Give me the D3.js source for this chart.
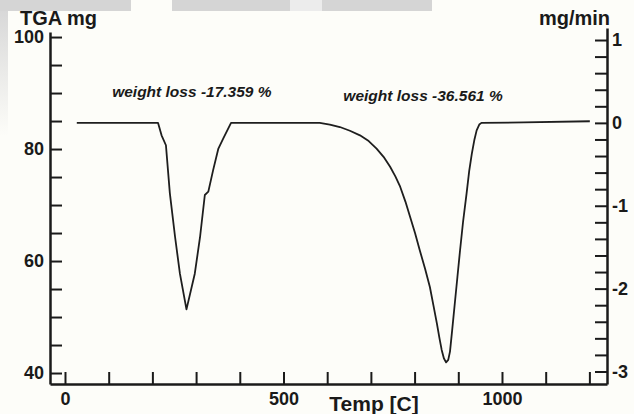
<!DOCTYPE html>
<meta charset="utf-8">
<script src="https://d3js.org/d3.v7.min.js"></script>
<style>
  body { margin: 0; background: #fdfdf9; }
  text { font-family: "Liberation Sans", Arial, sans-serif; fill: #1a1a1a; }
</style>
<body>
<div id="chart"></div>
<script>
// TGA / DTG curve
var temp = [27, 120, 213, 221, 231, 240, 252, 263, 278, 297, 309, 320, 328, 339, 351, 362, 380,
            480, 583, 606, 629, 652, 675, 695, 713, 729, 744, 756, 767, 779, 790, 801, 812, 824, 835, 843, 851,
            857, 862, 867, 872, 877, 881, 886, 892, 898, 904, 911, 919, 925, 931, 937, 942, 948, 953, 1050, 1201]
var dtg = [0, 0, 0, -0.15, -0.27, -0.85, -1.38, -1.82, -2.25, -1.82, -1.38, -0.87, -0.83, -0.57, -0.31, -0.19, 0,
           0, 0, -0.02, -0.05, -0.095, -0.15, -0.22, -0.31, -0.41, -0.53, -0.645, -0.77, -0.95, -1.14, -1.33, -1.54, -1.76, -1.98, -2.2, -2.42,
           -2.6, -2.74, -2.84, -2.89, -2.86, -2.76, -2.5, -2.18, -1.86, -1.54, -1.19, -0.85, -0.58, -0.37, -0.2, -0.09, -0.02, 0, 0.005, 0.02]
var xTicks = d3.range(0, 1201, 100)
var xLabels = [0, 500, 1000]
var leftTicks = d3.range(40, 101, 5)
var leftLabels = [40, 60, 80, 100]
var rightTicks = d3.range(-15, 6).map(function(d) { return d / 5 })
var rightLabels = [-3, -2, -1, 0, 1]
var notes = ["weight loss -17.359 %", "weight loss -36.561 %"]
var noteTemp = [108, 637]
var noteMass = [89.3, 88.6]

var width = 634, height = 414
var svg = d3.select("#chart").append("svg")
    .attr("width", width)
    .attr("height", height)

svg.append("rect").attr("width", width).attr("height", height).attr("fill", "#fdfdf9")

// grey slide pieces at the top / left edge
var greyBits = [[0, 131, "#d5d5d5"], [172, 290, "#d5d5d5"], [290, 322, "#ececec"], [322, 432, "#d5d5d5"]]
svg.selectAll(".grey").data(greyBits).enter().append("rect")
    .attr("x", function(d) { return d[0] })
    .attr("y", 0)
    .attr("width", function(d) { return d[1] - d[0] })
    .attr("height", 11)
    .attr("fill", function(d) { return d[2] })
var grad = svg.append("defs").append("linearGradient").attr("id", "fade")
    .attr("x1", 0).attr("y1", 0).attr("x2", 0).attr("y2", 1)
grad.append("stop").attr("offset", 0).attr("stop-color", "#d8d8d8")
grad.append("stop").attr("offset", 1).attr("stop-color", "#fdfdf9")
svg.append("rect").attr("x", 0).attr("y", 11).attr("width", 8).attr("height", 125).attr("fill", "url(#fade)")

var x = d3.scaleLinear().domain([-34.3, 1240.3]).range([50, 607])
var yL = d3.scaleLinear().domain([38.04, 100.9]).range([384, 32])
var yR = d3.scaleLinear().domain([-3.151, 1.145]).range([384, 28])

function styleAxis(g) {
  g.select(".domain").attr("stroke", "#1a1a1a").attr("stroke-width", 2.5)
  g.selectAll(".tick line").attr("stroke", "#1a1a1a").attr("stroke-width", 2)
  g.selectAll(".tick text").attr("fill", "#1a1a1a")
    .style("font-size", "18px").style("font-weight", "bold")
    .style("font-family", "'Liberation Sans', Arial, sans-serif")
}

svg.append("g")
    .attr("transform", "translate(0,384)")
    .call(d3.axisBottom(x).tickValues(xTicks).tickSize(-12).tickSizeOuter(0).tickPadding(8)
      .tickFormat(function(d) { return xLabels.indexOf(d) >= 0 ? d : "" }))
    .call(styleAxis)

svg.append("g")
    .attr("transform", "translate(50,0)")
    .call(d3.axisLeft(yL).tickValues(leftTicks).tickSize(-12).tickSizeOuter(0).tickPadding(6)
      .tickFormat(function(d) { return leftLabels.indexOf(d) >= 0 ? d : "" }))
    .call(styleAxis)

svg.append("g")
    .attr("transform", "translate(607,0)")
    .call(d3.axisRight(yR).tickValues(rightTicks).tickSize(-12).tickSizeOuter(0).tickPadding(5)
      .tickFormat(function(d) {
        var r = Math.round(d)
        return Math.abs(d - r) < 1e-6 && rightLabels.indexOf(r) >= 0 ? String(r) : ""
      }))
    .call(styleAxis)

// DTG curve
var line = d3.line()
    .x(function(d, i) { return x(temp[i]) })
    .y(function(d, i) { return yR(dtg[i]) })
svg.append("path")
    .datum(temp)
    .attr("d", line)
    .attr("fill", "none")
    .attr("stroke", "#1e1e1e")
    .attr("stroke-width", 1.8)
    .attr("stroke-linejoin", "round")

// titles
svg.append("text").attr("x", 20).attr("y", 25).text("TGA mg")
    .style("font-size", "20px").style("font-weight", "bold")
svg.append("text").attr("x", 610).attr("y", 25).attr("text-anchor", "end").text("mg/min")
    .style("font-size", "20px").style("font-weight", "bold")
svg.append("text").attr("x", 374).attr("y", 411).attr("text-anchor", "middle").text("Temp [C]")
    .style("font-size", "21px").style("font-weight", "bold")

svg.selectAll(".note").data(notes).enter().append("text")
    .attr("x", function(d, i) { return x(noteTemp[i]) })
    .attr("y", function(d, i) { return yL(noteMass[i]) })
    .text(function(d) { return d })
    .style("font-size", "15.5px").style("font-weight", "bold").style("font-style", "italic")
    .attr("fill", "#2a2a2a")
</script>
</body>
